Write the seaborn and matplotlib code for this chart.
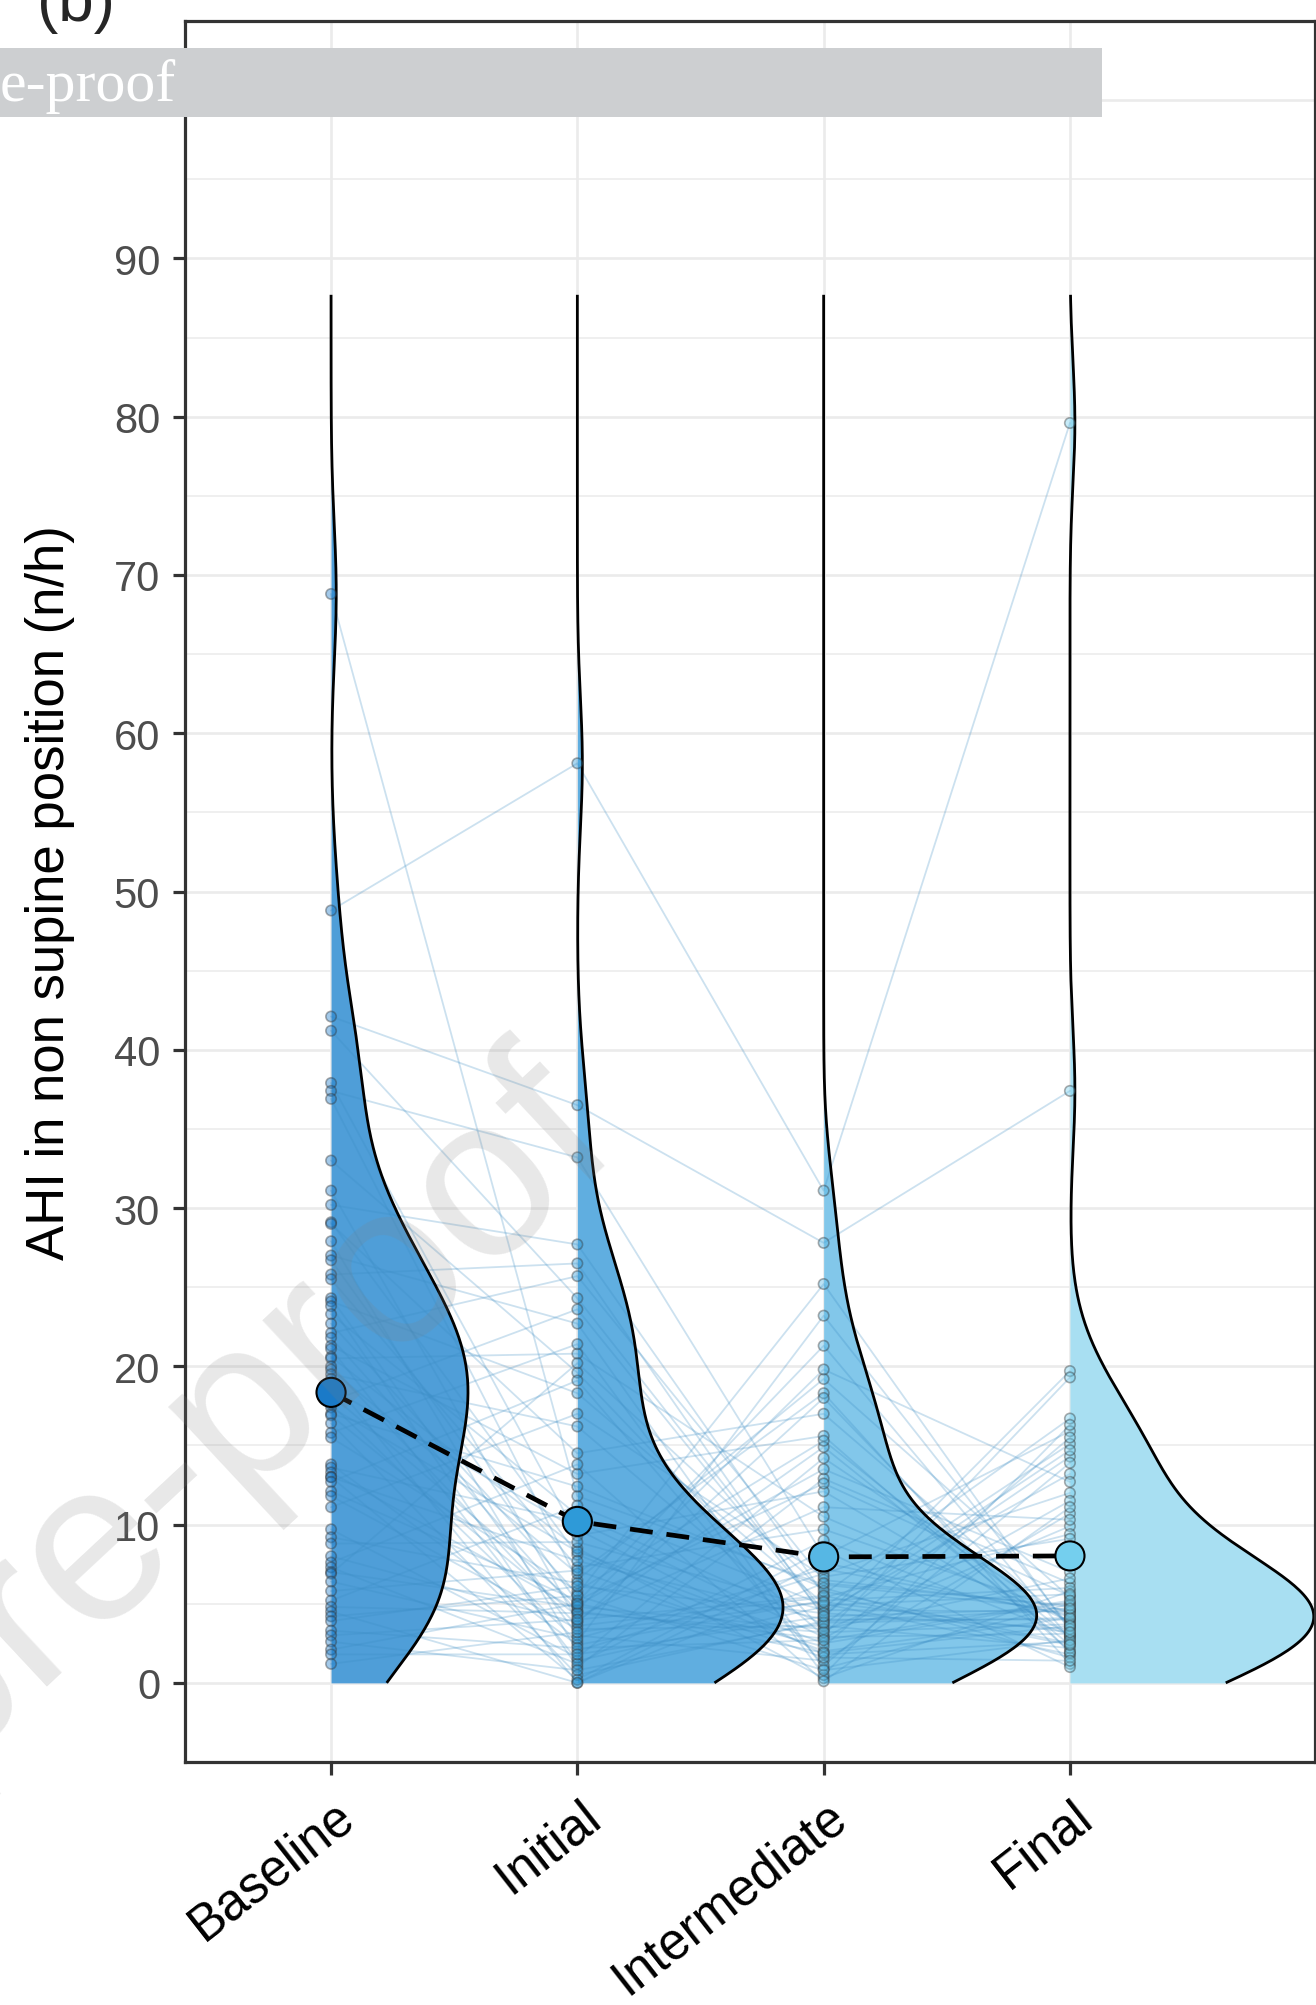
import numpy as np
import pandas as pd
import matplotlib
matplotlib.use("Agg")
import matplotlib.pyplot as plt
import matplotlib.transforms as mtransforms
from matplotlib.patches import Rectangle
import seaborn as sns

# ---- data: AHI in non-supine position (n/h), one entry per patient, same order in every list
timepoints = ["Baseline", "Initial", "Intermediate", "Final"]

baseline = [68.8, 48.8, 42.1, 41.2, 37.9, 37.4, 36.9, 33.0, 31.1, 30.2,
            29.1, 29.0, 27.9, 27.0, 26.7, 25.8, 25.5, 24.3, 24.1, 23.8,
            23.3, 22.7, 22.1, 21.8, 21.3, 21.1, 20.6, 20.5, 20.0, 19.8,
            19.5, 19.2, 18.6, 18.2, 17.8, 17.6, 17.4, 17.0, 16.9, 16.4,
            15.8, 15.5, 13.8, 13.6, 13.3, 13.0, 13.0, 12.7, 12.1, 11.8,
            11.1, 9.7, 9.2, 8.8, 8.0, 7.6, 7.3, 7.0, 6.9, 6.4,
            5.8, 5.2, 4.8, 4.5, 4.2, 3.9, 3.3, 3.0, 2.6, 2.1,
            1.8, 1.2]

initial = [11.8, 58.1, 36.5, 24.3, 9.3, 33.2, 6.5, 19.6, 3.9, 27.7,
           8.1, 14.5, 2.0, 22.7, 5.1, 26.5, 7.3, 3.0, 18.3, 1.0,
           10.6, 5.6, 25.7, 4.5, 13.2, 1.4, 8.5, 20.8, 3.6, 6.9,
           16.2, 0.0, 9.7, 4.9, 23.6, 2.6, 8.3, 12.4, 4.2, 0.5,
           21.4, 5.8, 2.4, 10.2, 4.6, 7.7, 0.2, 19.1, 5.2, 3.4,
           17.0, 1.6, 6.3, 8.9, 3.8, 13.8, 1.2, 4.8, 20.2, 2.8,
           7.1, 11.2, 4.4, 0.0, 5.5, 6.1, 2.2, 4.0, 0.8, 5.0,
           1.8, 3.2]

intermediate = [6.2, 31.1, 27.8, 4.5, 12.1, 8.0, 19.2, 3.3, 14.9, 5.6,
                2.0, 17.0, 6.9, 0.9, 21.3, 4.1, 9.7, 1.4, 5.0, 12.9,
                3.7, 25.2, 6.5, 2.8, 15.6, 4.8, 0.3, 10.5, 5.4, 18.3,
                3.0, 7.6, 1.8, 13.5, 4.3, 23.2, 2.5, 6.0, 11.1, 3.9,
                0.5, 15.3, 5.2, 2.9, 19.8, 4.0, 8.4, 1.1, 12.6, 3.6,
                6.7, 14.2, 2.3, 4.6, 18.0, 0.1, 9.0, 3.4, 5.8, 7.2,
                1.6, 4.9, 3.2, 6.3, 0.8, 4.4, 2.7, 5.5, 3.8, 1.9,
                4.2, 5.1]

final = [4.6, 79.6, 37.4, 13.2, 3.0, 15.9, 5.4, 9.9, 2.4, 16.7,
         4.1, 3.6, 12.0, 5.0, 2.8, 19.7, 4.4, 10.7, 1.8, 6.3,
         14.3, 3.3, 4.8, 11.5, 2.0, 15.1, 5.8, 3.9, 9.4, 1.2,
         19.3, 4.2, 2.6, 7.0, 14.7, 3.5, 5.1, 1.6, 10.3, 4.6,
         16.3, 2.9, 6.0, 3.1, 12.7, 4.0, 1.0, 13.9, 5.5, 2.2,
         9.1, 3.8, 15.5, 4.5, 1.9, 11.1, 3.0, 6.6, 2.5, 4.3,
         1.4, 5.6, 3.7, 4.9, 2.7, 3.4, 5.2, 2.4, 4.1, 3.6,
         4.7, 3.2]

# ---- styling
violin_colors = ["#4f9ed8", "#60aee0", "#82c7ea", "#a8dff2"]
mean_colors = ["#1a7ac8", "#2e9ad8", "#56b7e4", "#74cfee"]
violin_width = [0.556, 0.835, 0.865, 0.99]   # max half-width of each violin (category units)
bw_adjust = [1.0, 1.4, 1.5, 1.9]
line_color = "#3a8cc4"
density_top = 87.7

sns.set_theme(style="white")
plt.rcParams["font.family"] = ["Liberation Sans", "DejaVu Sans"]
plt.rcParams["lines.scale_dashes"] = False

n = len(baseline)
series = [baseline, initial, intermediate, final]
df = pd.DataFrame({
    "subject": np.tile(np.arange(n), 4),
    "timepoint": np.repeat(timepoints, n),
    "pos": np.repeat(np.arange(4), n),
    "value": np.concatenate(series),
})

fig = plt.figure(figsize=(13.16, 20.06), dpi=100)
ax = fig.add_axes([185 / 1316, 1 - 1763 / 2006, 1130 / 1316, 1741 / 2006])
ax.set_facecolor("white")


def nrd0(x):
    x = np.asarray(x, dtype=float)
    sd = x.std(ddof=1)
    q75, q25 = np.percentile(x, [75, 25])
    lo = min(sd, (q75 - q25) / 1.34)
    return 0.9 * lo * len(x) ** -0.2


# half violins (flat side on the category position, density to the right)
grid = np.linspace(0, density_top, 600)
for i, vals in enumerate(series):
    v = np.asarray(vals, dtype=float)
    bw = nrd0(v) * bw_adjust[i]
    dens = np.exp(-0.5 * ((grid[:, None] - v[None, :]) / bw) ** 2).sum(axis=1)
    dens = dens / dens.max() * violin_width[i]
    ax.fill_betweenx(grid, i, i + dens, color=violin_colors[i], lw=0, zorder=1)
    ax.plot(i + dens, grid, color="black", lw=2.0, zorder=2.5, solid_capstyle="butt")

# paired lines between timepoints
sns.lineplot(data=df, x="pos", y="value", units="subject", estimator=None,
             color=line_color, alpha=0.26, linewidth=1.3, legend=False,
             zorder=2, ax=ax)

# individual observations
sns.stripplot(data=df, x="pos", y="value", hue="timepoint", hue_order=timepoints,
              palette=mean_colors, native_scale=True, jitter=False, size=7.5,
              alpha=0.4, edgecolor="#333333", linewidth=1.2, legend=False,
              zorder=4, ax=ax)

# group means joined by a dashed line
sns.lineplot(data=df, x="pos", y="value", estimator="mean", errorbar=None,
             color="black", linewidth=3.4, linestyle="--", legend=False,
             zorder=5, ax=ax)
ax.lines[-1].set_dashes((16.5, 10))

means = df.groupby("timepoint", sort=False)["value"].mean().reindex(timepoints).reset_index()
means["pos"] = np.arange(4)
sns.scatterplot(data=means, x="pos", y="value", hue="timepoint", hue_order=timepoints,
                palette=mean_colors, s=440, edgecolor="black", linewidth=1.5,
                legend=False, zorder=6, ax=ax)

# axes, grid, ticks
ax.set_xlim(-0.593, 3.995)
ax.set_ylim(-5, 105)
ax.set_yticks(np.arange(0, 101, 10))
ax.set_yticks(np.arange(5, 101, 10), minor=True)
ax.set_xticks(np.arange(4))
ax.set_xticklabels(timepoints)
ax.grid(which="major", axis="both", color="#ebebeb", lw=1.9, zorder=0)
ax.grid(which="minor", axis="y", color="#ebebeb", lw=1.1, zorder=0)
ax.set_axisbelow(True)

for sp in ax.spines.values():
    sp.set_visible(True)
    sp.set_color("#333333")
    sp.set_linewidth(2.3)

ax.tick_params(axis="y", which="major", length=9, width=2.3, color="#333333",
               labelsize=30, labelcolor="#4d4d4d", pad=9, left=True)
ax.tick_params(axis="y", which="minor", length=0)
ax.tick_params(axis="x", which="major", length=9, width=2.3, color="#333333",
               labelsize=36.5, labelcolor="black", pad=12, bottom=True)
for lab in ax.get_xticklabels():
    lab.set_rotation(38)
    lab.set_ha("right")
    lab.set_va("top")
    lab.set_rotation_mode("anchor")
    lab.set_transform(lab.get_transform() +
                      mtransforms.ScaledTranslation(0.02, 0, fig.dpi_scale_trans))

ax.set_xlabel("")
ax.set_ylabel("AHI in non supine position (n/h)", fontsize=38, color="black")
ax.yaxis.set_label_coords(-0.097, 0.5)

# panel tag
fig.text(37 / 1316, 1 - 21 / 2006, "(b)", fontsize=46, ha="left", va="baseline")

# diagonal watermark
fig.text(238 / 1316, 1 - 1413 / 2006, "pre-proof", fontsize=165, rotation=43,
         color=(0.5, 0.5, 0.5), alpha=0.18, ha="center", va="center", zorder=20)

# banner across the top
fig.add_artist(Rectangle((0, 1 - 118 / 2006), 1102 / 1316, 69 / 2006,
                         transform=fig.transFigure, facecolor="#cdcfd1",
                         edgecolor="none", zorder=30))
fig.text(176 / 1316, 1 - 101 / 2006, "e-proof", fontsize=43, color="white",
         family=["Liberation Serif", "DejaVu Serif"], ha="right", va="baseline",
         zorder=31)

fig.savefig("out.png", dpi=100)
